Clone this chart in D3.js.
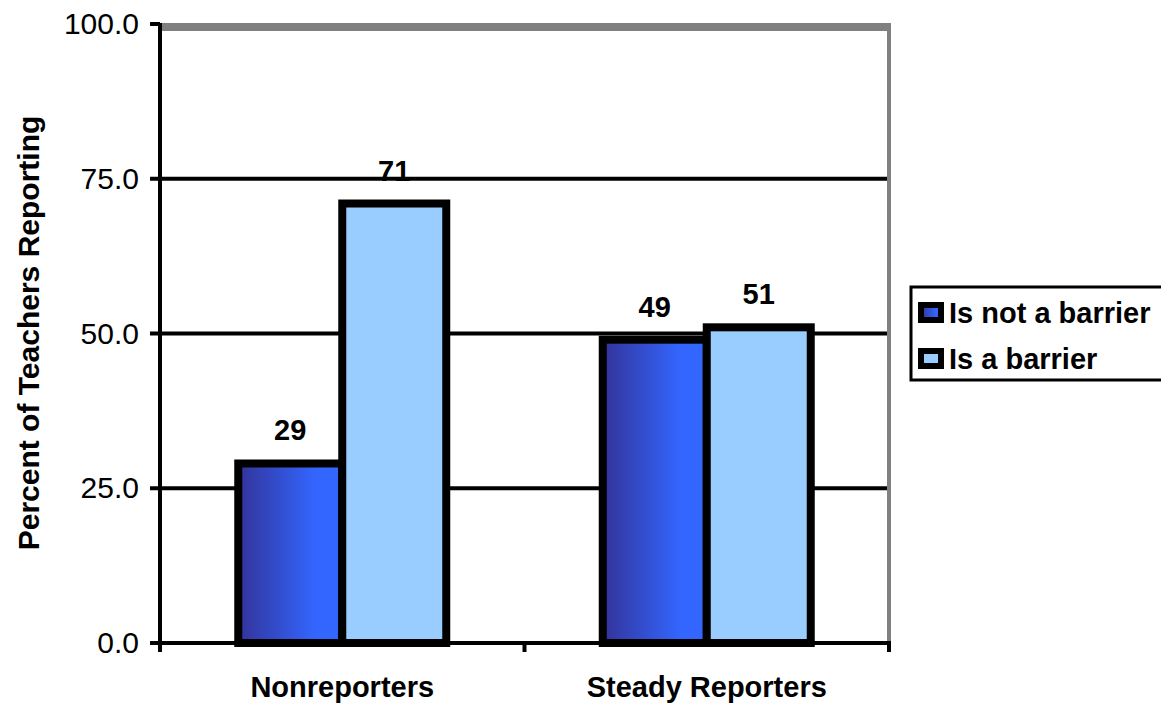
<!DOCTYPE html>
<html>
<head>
<meta charset="utf-8">
<script src="https://cdn.jsdelivr.net/npm/d3@7"></script>
<style>
  html, body { margin: 0; padding: 0; background: #fff; }
  svg { display: block; }
  text { font-family: "Liberation Sans", Arial, sans-serif; fill: #000; }
</style>
</head>
<body>
<svg id="chart" width="1161" height="704"></svg>
<script>
// Chart data
const categories = ["Nonreporters", "Steady Reporters"];
const seriesNames = ["Is not a barrier", "Is a barrier"];
const notBarrierValues = [29, 49];
const isBarrierValues = [71, 51];
const yTickValues = [0, 25, 50, 75, 100];
const yTitle = "Percent of Teachers Reporting";

const seriesValues = [notBarrierValues, isBarrierValues];

const svg = d3.select("#chart");
const W = 1161, H = 704;

// Plot area
const plotLeft = 160, plotRight = 889, plotTop = 24, plotBottom = 643;
const groupWidth = 208;

const y = d3.scaleLinear().domain([0, 100]).range([plotBottom, plotTop]);
const x0 = d3.scaleBand().domain(categories).range([plotLeft, plotRight]).padding(0);
const x1 = d3.scaleBand().domain(seriesNames).range([0, groupWidth]).padding(0);
const groupOffset = (x0.bandwidth() - groupWidth) / 2;

// Gradient for the dark series
const defs = svg.append("defs");
const grad = defs.append("linearGradient").attr("id", "darkGrad")
  .attr("x1", "0%").attr("x2", "100%").attr("y1", "0%").attr("y2", "0%");
grad.append("stop").attr("offset", "0%").attr("stop-color", "#333399");
grad.append("stop").attr("offset", "75%").attr("stop-color", "#3366ff");
grad.append("stop").attr("offset", "100%").attr("stop-color", "#3366ff");

const fills = ["url(#darkGrad)", "#99ccff"];

// Flatten data for drawing
const bars = [];
categories.forEach((c, ci) => {
  seriesNames.forEach((s, si) => {
    bars.push({ category: c, series: s, si, value: seriesValues[si][ci] });
  });
});

// Value labels (drawn first so gridlines sit on top where they touch)
svg.append("g").selectAll("text").data(bars).join("text")
  .attr("x", d => x0(d.category) + groupOffset + x1(d.series) + x1.bandwidth() / 2)
  .attr("y", d => y(d.value) - 23)
  .attr("text-anchor", "middle")
  .attr("font-size", 29)
  .attr("font-weight", "bold")
  .text(d => d3.format("d")(d.value));

// Gridlines
svg.append("g").selectAll("line").data(yTickValues.filter(v => v > 0 && v < 100)).join("line")
  .attr("x1", plotLeft).attr("x2", plotRight)
  .attr("y1", d => y(d)).attr("y2", d => y(d))
  .attr("stroke", "#000").attr("stroke-width", 4);

// Plot frame (top and right, gray)
svg.append("line")
  .attr("x1", plotLeft).attr("x2", plotRight + 2)
  .attr("y1", y(100) + 3).attr("y2", y(100) + 3)
  .attr("stroke", "#808080").attr("stroke-width", 8);
svg.append("line")
  .attr("x1", plotRight).attr("x2", plotRight)
  .attr("y1", y(100) - 1).attr("y2", y(0))
  .attr("stroke", "#808080").attr("stroke-width", 4);

// Bars
svg.append("g").selectAll("rect").data(bars).join("rect")
  .attr("x", d => x0(d.category) + groupOffset + x1(d.series))
  .attr("y", d => y(d.value))
  .attr("width", x1.bandwidth())
  .attr("height", d => y(0) - y(d.value))
  .attr("fill", d => fills[d.si])
  .attr("stroke", "#000")
  .attr("stroke-width", 8);

// Y axis
const yAxis = svg.append("g");
yAxis.append("line")
  .attr("x1", plotLeft).attr("x2", plotLeft)
  .attr("y1", y(100) - 1).attr("y2", y(0) + 2)
  .attr("stroke", "#000").attr("stroke-width", 4);
yAxis.selectAll("line.tick").data(yTickValues).join("line")
  .attr("class", "tick")
  .attr("x1", plotLeft - 10).attr("x2", plotLeft)
  .attr("y1", d => y(d)).attr("y2", d => y(d))
  .attr("stroke", "#000").attr("stroke-width", 4);
yAxis.selectAll("text").data(yTickValues).join("text")
  .attr("x", plotLeft - 21)
  .attr("y", d => y(d) + 10)
  .attr("text-anchor", "end")
  .attr("font-size", 30)
  .text(d => d3.format(".1f")(d));

// X axis
const xAxis = svg.append("g");
xAxis.append("line")
  .attr("x1", plotLeft - 10).attr("x2", plotRight + 2)
  .attr("y1", y(0)).attr("y2", y(0))
  .attr("stroke", "#000").attr("stroke-width", 4);
const xTickPositions = categories.map(c => x0(c)).concat([x0(categories[categories.length - 1]) + x0.bandwidth()]);
xAxis.selectAll("line.tick").data(xTickPositions).join("line")
  .attr("class", "tick")
  .attr("x1", d => d).attr("x2", d => d)
  .attr("y1", y(0)).attr("y2", y(0) + 9)
  .attr("stroke", "#000").attr("stroke-width", 4);
xAxis.selectAll("text").data(categories).join("text")
  .attr("x", d => x0(d) + x0.bandwidth() / 2)
  .attr("y", 697)
  .attr("text-anchor", "middle")
  .attr("font-size", 29)
  .attr("font-weight", "bold")
  .text(d => d);

// Y axis title
svg.append("text")
  .attr("transform", "translate(39," + 333 + ") rotate(-90)")
  .attr("text-anchor", "middle")
  .attr("font-size", 30)
  .attr("font-weight", "bold")
  .text(yTitle);

// Legend
const legend = svg.append("g").attr("transform", "translate(911,287)");
legend.append("rect")
  .attr("x", 0).attr("y", 0).attr("width", 280).attr("height", 93)
  .attr("fill", "#fff").attr("stroke", "#000").attr("stroke-width", 3);
const items = legend.selectAll("g.item").data(seriesNames).join("g")
  .attr("class", "item")
  .attr("transform", (d, i) => "translate(0," + (i * 46) + ")");
items.append("rect")
  .attr("x", 10).attr("y", 18).attr("width", 20).attr("height", 15)
  .attr("fill", (d, i) => fills[i])
  .attr("stroke", "#000").attr("stroke-width", 6);
items.append("text")
  .attr("x", 38).attr("y", 36)
  .attr("font-size", 29)
  .attr("font-weight", "bold")
  .text(d => d);
</script>
</body>
</html>
